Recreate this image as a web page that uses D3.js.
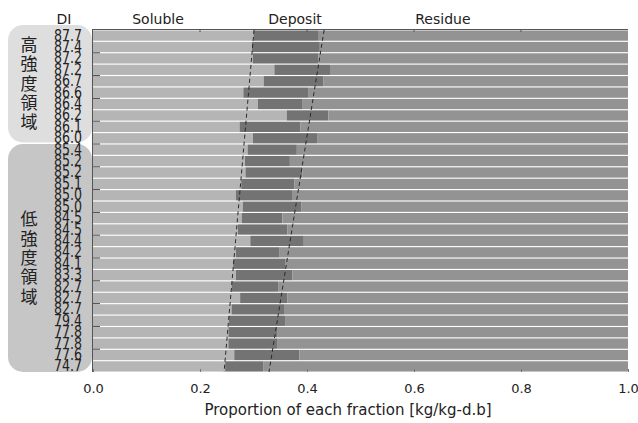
<!DOCTYPE html>
<html lang="ja">
  <head>
    <meta charset="UTF-8" />
    <title>Fraction chart</title>
    <style>
      body { margin: 0; background: #fff; }
      text { font-family: "DejaVu Sans", sans-serif; fill: #222; }
      .jp { font-family: "Noto Sans CJK JP", sans-serif; }
    </style>
  </head>
  <body>
    <svg id="chart" width="638" height="423"></svg>
    <script src="https://cdn.jsdelivr.net/npm/d3@7"></script>
    <script>
      // DI of each sample, top to bottom
      const di = ["87.7", "87.4", "87.2", "87.2", "86.7", "86.6", "86.4", "86.2", "86.1", "86.0",
        "85.4", "85.2", "85.2", "85.1", "85.0", "85.0", "84.5", "84.5", "84.4", "84.2",
        "84.1", "83.3", "82.7", "82.7", "82.7", "79.4", "77.8", "77.8", "77.6", "74.7"];

      // fractions [kg/kg-d.b]
      const soluble = [0.300, 0.297, 0.299, 0.339, 0.319, 0.281, 0.308, 0.362, 0.274, 0.299,
        0.289, 0.284, 0.285, 0.277, 0.267, 0.280, 0.278, 0.271, 0.294, 0.267,
        0.262, 0.267, 0.259, 0.275, 0.259, 0.254, 0.253, 0.253, 0.264, 0.247];
      const deposit = [0.122, 0.127, 0.122, 0.104, 0.112, 0.121, 0.084, 0.078, 0.114, 0.121,
        0.092, 0.084, 0.106, 0.099, 0.105, 0.109, 0.076, 0.092, 0.100, 0.082,
        0.097, 0.106, 0.087, 0.088, 0.098, 0.105, 0.091, 0.091, 0.122, 0.071];
      const residue = [0.578, 0.576, 0.579, 0.557, 0.569, 0.598, 0.608, 0.560, 0.612, 0.580,
        0.619, 0.632, 0.609, 0.624, 0.628, 0.611, 0.646, 0.637, 0.606, 0.651,
        0.641, 0.627, 0.654, 0.637, 0.643, 0.641, 0.656, 0.656, 0.614, 0.682];

      // dashed trend lines: value at first row edge, value at last row edge
      const trendSoluble = [0.301, 0.245];
      const trendDeposit = [0.432, 0.329];

      const fractions = ["Soluble", "Deposit", "Residue"];
      const headerPos = [0.1215, 0.3776, 0.654];
      const colors = ["#b5b5b5", "#737373", "#939393"];
      const xTicks = [0, 0.2, 0.4, 0.6, 0.8, 1.0];

      const groups = [
        { name: "高強度領域", from: 0, to: 9, fill: "#dedede" },
        { name: "低強度領域", from: 10, to: 29, fill: "#c6c6c6" },
      ];

      const svg = d3.select("#chart");
      const pLeft = 93, pRight = 628, pTop = 30, pBottom = 372;

      const x = d3.scaleLinear().domain([0, 1]).range([pLeft, pRight]);
      const y = d3.scaleBand().domain(d3.range(di.length)).range([pTop, pBottom])
        .paddingInner(0.1).paddingOuter(0.04);

      // group boxes
      groups.forEach((g) => {
        const y0 = g.from === 0 ? pTop - 5 : y(g.from) - 0.5;
        const y1 = g.to === di.length - 1 ? pBottom : y(g.to) + y.bandwidth() - 1;
        svg.append("rect")
          .attr("x", 8).attr("y", y0).attr("width", 84).attr("height", y1 - y0)
          .attr("rx", 15).attr("fill", g.fill);
        const chars = Array.from(g.name);
        const cy = (y0 + y1) / 2;
        svg.append("g").selectAll("text").data(chars).join("text")
          .attr("class", "jp")
          .attr("x", 29)
          .attr("y", (d, i) => cy + (i - (chars.length - 1) / 2) * 19.3 + 6)
          .attr("text-anchor", "middle")
          .attr("font-size", 17)
          .text((d) => d);
      });

      // stacked bars
      const rows = di.map((d, i) => ({ i, parts: [soluble[i], deposit[i], residue[i]] }));
      const stackG = svg.append("g");
      rows.forEach((r) => {
        let acc = 0;
        r.parts.forEach((v, k) => {
          stackG.append("rect")
            .attr("x", x(acc)).attr("y", y(r.i))
            .attr("width", x(acc + v) - x(acc))
            .attr("height", y.bandwidth())
            .attr("fill", colors[k]);
          acc += v;
        });
      });

      // trend lines
      [trendSoluble, trendDeposit].forEach((t) => {
        svg.append("line")
          .attr("x1", x(t[0])).attr("y1", pTop)
          .attr("x2", x(t[1])).attr("y2", pBottom)
          .attr("stroke", "#2a2a2a").attr("stroke-width", 1)
          .attr("stroke-dasharray", "4,3");
      });

      // DI labels (narrow, tall digits as in the original)
      svg.append("g").selectAll("text").data(di).join("text")
        .attr("transform", (d, i) => `translate(82, ${y(i) + y.bandwidth() / 2 + 5}) scale(1, 1.22)`)
        .attr("text-anchor", "end")
        .attr("font-size", 12.6)
        .attr("fill", "#333")
        .text((d) => d);

      // y ticks (inward)
      const yTickPos = d3.range(2, di.length, 2).map((k) => pTop + k * (pBottom - pTop) / di.length);
      svg.append("g").selectAll("line").data(yTickPos).join("line")
        .attr("x1", pLeft - 1).attr("x2", pLeft + 7)
        .attr("y1", (d) => d).attr("y2", (d) => d)
        .attr("stroke", "#444").attr("stroke-width", 1);

      // frame: top and left
      svg.append("line").attr("x1", pLeft - 1).attr("x2", pRight).attr("y1", pTop - 0.5).attr("y2", pTop - 0.5)
        .attr("stroke", "#555");
      svg.append("line").attr("x1", pLeft - 0.5).attr("x2", pLeft - 0.5).attr("y1", pTop - 1).attr("y2", pBottom)
        .attr("stroke", "#555");

      // top ticks
      svg.append("g").selectAll("line").data(xTicks.slice(1, -1)).join("line")
        .attr("x1", (d) => x(d)).attr("x2", (d) => x(d))
        .attr("y1", pTop - 1).attr("y2", pTop + 2)
        .attr("stroke", "#555");

      // bottom axis
      const xAxis = d3.axisBottom(x).tickValues(xTicks).tickFormat(d3.format(".1f"))
        .tickSize(-3).tickPadding(12);
      const ax = svg.append("g").attr("transform", `translate(0, ${pBottom})`).call(xAxis);
      ax.select(".domain").remove();
      ax.selectAll(".tick line").attr("stroke", "#777");
      ax.selectAll(".tick text").attr("font-size", 13).attr("fill", "#333")
        .attr("font-family", "DejaVu Sans, sans-serif");

      svg.append("text")
        .attr("x", 348).attr("y", 415)
        .attr("text-anchor", "middle").attr("font-size", 15)
        .text("Proportion of each fraction [kg/kg-d.b]");

      // headers
      svg.append("text").attr("x", 64).attr("y", 24).attr("text-anchor", "middle")
        .attr("font-size", 14).text("DI");
      svg.append("g").selectAll("text").data(fractions).join("text")
        .attr("x", (d, i) => x(headerPos[i])).attr("y", 24)
        .attr("text-anchor", "middle").attr("font-size", 14)
        .text((d) => d);
    </script>
  </body>
</html>
